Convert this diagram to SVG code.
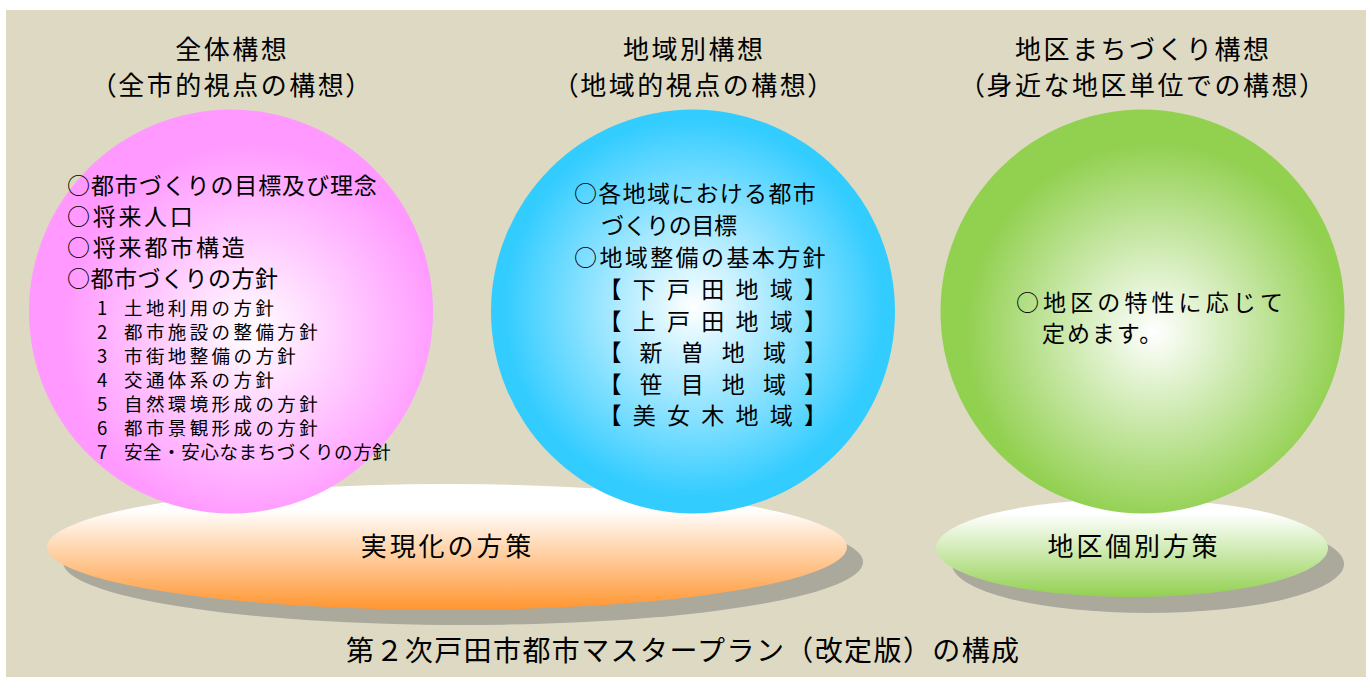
<svg xmlns="http://www.w3.org/2000/svg" width="1372" height="677" viewBox="0 0 1372 677">
<style>
text{font-family:"Noto Sans CJK JP","Noto Sans CJK SC",sans-serif;fill:#000}
.ttl{font-size:26px;letter-spacing:2.5px;text-anchor:middle}
.p{font-feature-settings:"palt" 1}
.m{font-size:23px}
.s{font-size:18.5px;letter-spacing:3.4px}
.lbl{font-size:26px;text-anchor:middle}
.shadow{fill:#ABA99C}
</style>
<defs>
<radialGradient id="gPink" cx="0.55" cy="0.55" r="0.55">
<stop offset="0" stop-color="#FFFFFF"/><stop offset="0.85" stop-color="#FF99FF"/></radialGradient>
<radialGradient id="gBlue" cx="0.5" cy="0.49" r="0.55">
<stop offset="0" stop-color="#FFFFFF"/><stop offset="0.85" stop-color="#33CCFF"/></radialGradient>
<radialGradient id="gGreen" cx="0.53" cy="0.55" r="0.55">
<stop offset="0" stop-color="#FFFFFF"/><stop offset="0.85" stop-color="#92D050"/></radialGradient>
<linearGradient id="gOrange" x1="0" y1="0" x2="0" y2="1">
<stop offset="0" stop-color="#FFFFFF"/><stop offset="0.2" stop-color="#FFFFFF"/><stop offset="1" stop-color="#FF9530"/></linearGradient>
<linearGradient id="gLGreen" x1="0" y1="0" x2="0" y2="1">
<stop offset="0" stop-color="#FFFFFF"/><stop offset="0.15" stop-color="#FFFFFF"/><stop offset="1" stop-color="#92D050"/></linearGradient>
</defs>
<rect x="6" y="10" width="1360" height="667" fill="#DDD9C3"/>
<g id="connectors"/>
<g id="node-jitsugen">
<ellipse class="shadow" cx="463" cy="562" rx="400" ry="63"/>
<ellipse cx="447" cy="547" rx="400" ry="63" fill="url(#gOrange)"/>
<text class="lbl" x="447.5" y="555.5" letter-spacing="2.9">実現化の方策</text>
</g>
<g id="node-kobetsu">
<ellipse class="shadow" cx="1148" cy="564" rx="196" ry="49"/>
<ellipse cx="1132" cy="548" rx="196" ry="49" fill="url(#gLGreen)"/>
<text class="lbl" x="1134" y="555.5" letter-spacing="2.8">地区個別方策</text>
</g>
<g id="node-zentai">
<text class="ttl" x="232.25" y="59">全体構想</text>
<text class="ttl" x="232.25" y="94.5"><tspan class="p">（</tspan>全市的視点の構想<tspan class="p">）</tspan></text>
<circle cx="231" cy="311.5" r="202" fill="url(#gPink)"/>
<text class="m" x="67" y="193.5" letter-spacing="0.9">○都市づくりの目標及び理念</text>
<text class="m" x="67" y="224.5" letter-spacing="2.7">○将来人口</text>
<text class="m" x="67" y="255.5" letter-spacing="2.8">○将来都市構造</text>
<text class="m" x="67" y="286.5" letter-spacing="0.5">○都市づくりの方針</text>
<text class="s" y="315"><tspan x="97">1</tspan><tspan x="124">土地利用の方針</tspan></text>
<text class="s" y="339"><tspan x="97">2</tspan><tspan x="124">都市施設の整備方針</tspan></text>
<text class="s" y="363"><tspan x="97">3</tspan><tspan x="124">市街地整備の方針</tspan></text>
<text class="s" y="387"><tspan x="97">4</tspan><tspan x="124">交通体系の方針</tspan></text>
<text class="s" y="411"><tspan x="97">5</tspan><tspan x="124">自然環境形成の方針</tspan></text>
<text class="s" y="435"><tspan x="97">6</tspan><tspan x="124">都市景観形成の方針</tspan></text>
<text class="s" y="459"><tspan x="97">7</tspan><tspan x="124" letter-spacing="0.6">安全・安心なまちづくりの方針</tspan></text>
</g>
<g id="node-chiiki">
<text class="ttl" x="694.25" y="59">地域別構想</text>
<text class="ttl" x="694.25" y="94.5"><tspan class="p">（</tspan>地域的視点の構想<tspan class="p">）</tspan></text>
<circle cx="693" cy="311.5" r="202" fill="url(#gBlue)"/>
<text class="m" x="574" y="201.5" letter-spacing="1.3">○各地域における都市</text>
<text class="m" x="601" y="233.5" letter-spacing="-0.4">づくりの目標</text>
<text class="m" x="574" y="266" letter-spacing="2.4">○地域整備の基本方針</text>
<text class="m" y="298" x="598.5 632.75 667 701.25 735.5 769.75 804">【下戸田地域】</text>
<text class="m" y="329.5" x="598.5 632.75 667 701.25 735.5 769.75 804">【上戸田地域】</text>
<text class="m" y="361" x="598.5 639.6 680.7 721.8 762.9 804">【新曽地域】</text>
<text class="m" y="392.5" x="598.5 639.6 680.7 721.8 762.9 804">【笹目地域】</text>
<text class="m" y="424" x="598.5 632.75 667 701.25 735.5 769.75 804">【美女木地域】</text>
</g>
<g id="node-chiku">
<text class="ttl" x="1143.25" y="59">地区まちづくり構想</text>
<text class="ttl" x="1143.25" y="94.5"><tspan class="p">（</tspan>身近な地区単位での構想<tspan class="p">）</tspan></text>
<circle cx="1142.5" cy="311.5" r="202" fill="url(#gGreen)"/>
<text class="m" x="1016" y="310.5" letter-spacing="4.1">○地区の特性に応じて</text>
<text class="m" x="1042" y="341.5" letter-spacing="1.9">定めます。</text>
</g>
<g id="caption">
<text x="346" y="660.5" font-size="28" letter-spacing="1.4">第２次戸田市都市マスタープラン（改定版）の構成</text>
</g>
</svg>
